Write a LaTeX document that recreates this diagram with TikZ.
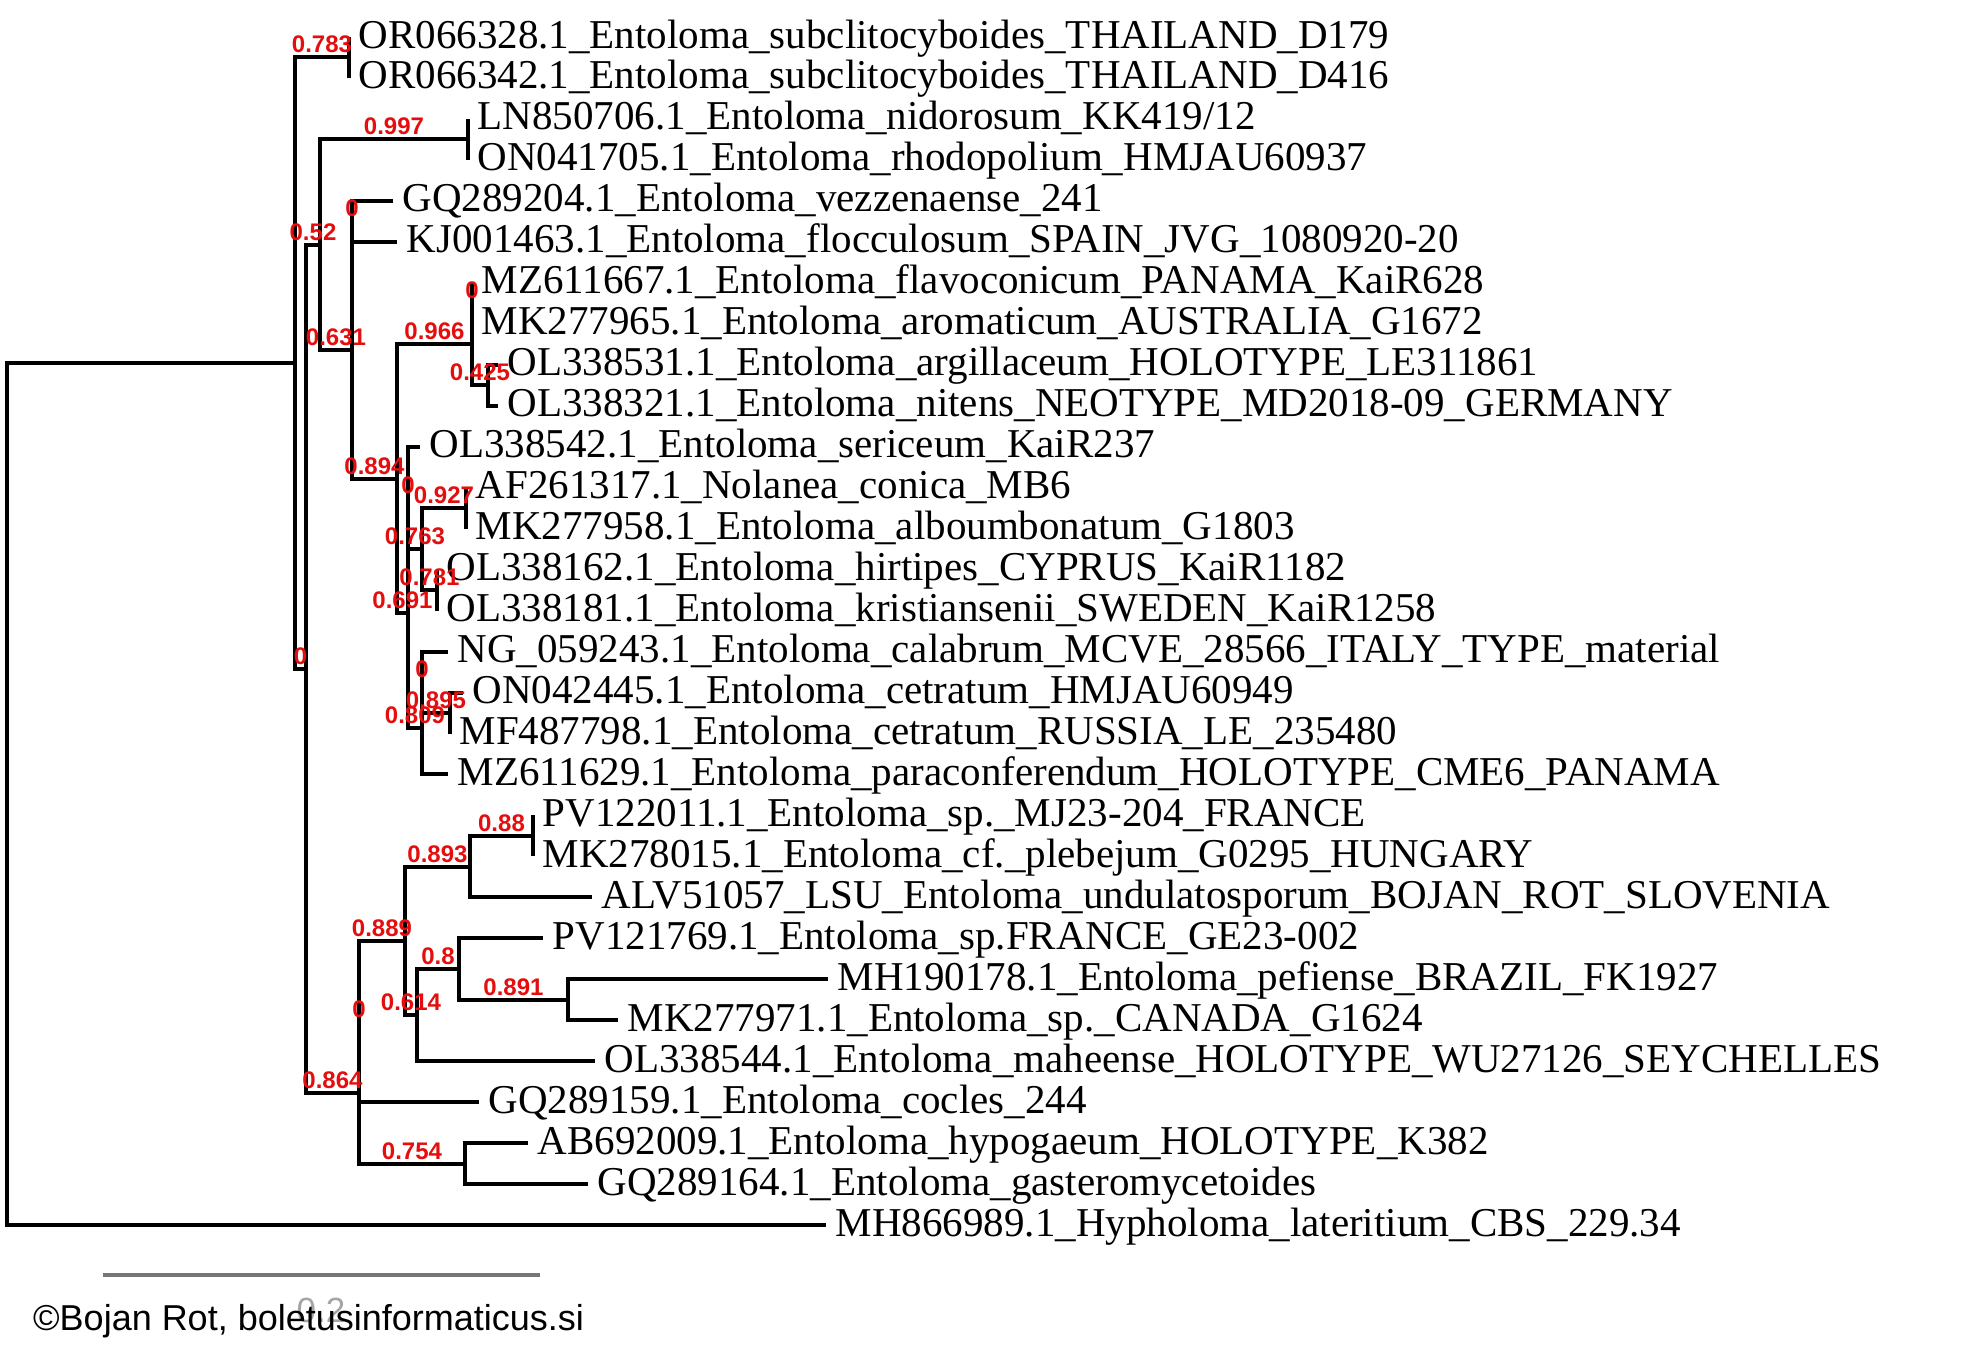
\documentclass[tikz,border=0pt]{standalone}
\usepackage{fontspec}
\setmainfont{Liberation Serif}
\newfontfamily\sansf{Liberation Sans}
\usetikzlibrary{calc}
\definecolor{bsred}{RGB}{228,14,14}
\definecolor{bargray}{RGB}{118,118,118}
\definecolor{scalegray}{RGB}{165,165,165}
\newcommand\bslab[4]{\node[bl] (#1) at ($(#2|-#3)!0.5!(#3)+(0,-4.5)$) {#4};}
\begin{document}
\begin{tikzpicture}[x=1pt,y=-1pt,
  br/.style={line width=4pt, line join=miter},
  tip/.style={anchor=base west, inner sep=0pt, font=\fontsize{41}{41}\selectfont},
  bl/.style={anchor=base, inner sep=0pt, text=bsred, font=\fontsize{24}{24}\sansf\bfseries}]
\useasboundingbox (0,0) rectangle (1969,1350);
% internal nodes
\coordinate (root) at (7,794.1);
\coordinate (A) at (295,363.08);
\coordinate (P1) at (349,57.49);
\coordinate (B) at (306,668.68);
\coordinate (C) at (320,244.74);
\coordinate (H) at (468,139.43);
\coordinate (E) at (352,350.04);
\coordinate (G) at (352,221.37);
\coordinate (F) at (397,478.71);
\coordinate (J) at (472,344.28);
\coordinate (L) at (472,303.31);
\coordinate (M) at (488,385.25);
\coordinate (K) at (408,613.14);
\coordinate (P) at (408,497.9);
\coordinate (S) at (422,549.13);
\coordinate (Q) at (466,508.16);
\coordinate (T) at (437,590.10);
\coordinate (O) at (422,728.37);
\coordinate (U) at (422,682.28);
\coordinate (V) at (450,713.0);
\coordinate (I) at (359,1092.62);
\coordinate (Y) at (359,1021.56);
\coordinate (X) at (465,1163.68);
\coordinate (W) at (405,940.9);
\coordinate (Z) at (470,866.64);
\coordinate (BB) at (533,835.9);
\coordinate (AA) at (417,1015.16);
\coordinate (CC) at (459,969.07);
\coordinate (DD) at (568,999.8);
% tip ends
\coordinate (t0) at (349,37);
\coordinate (t1) at (349,77.97);
\coordinate (t2) at (468,118.94);
\coordinate (t3) at (468,159.91);
\coordinate (t4) at (393,200.88);
\coordinate (t5) at (397,241.85);
\coordinate (t6) at (472,282.82);
\coordinate (t7) at (472,323.79);
\coordinate (t8) at (498,364.76);
\coordinate (t9) at (498,405.73);
\coordinate (t10) at (420,446.7);
\coordinate (t11) at (466,487.67);
\coordinate (t12) at (466,528.64);
\coordinate (t13) at (437,569.61);
\coordinate (t14) at (437,610.58);
\coordinate (t15) at (448,651.55);
\coordinate (t16) at (463,692.52);
\coordinate (t17) at (450,733.49);
\coordinate (t18) at (448,774.46);
\coordinate (t19) at (533,815.43);
\coordinate (t20) at (533,856.4);
\coordinate (t21) at (592,897.37);
\coordinate (t22) at (543,938.34);
\coordinate (t23) at (828,979.31);
\coordinate (t24) at (618,1020.28);
\coordinate (t25) at (595,1061.25);
\coordinate (t26) at (479,1102.22);
\coordinate (t27) at (528,1143.19);
\coordinate (t28) at (588,1184.16);
\coordinate (t29) at (826,1225.13);
% branches
\draw[br] (root) |- (A);  \draw[br] (root) |- (t29);
\draw[br] (A) |- (P1);    \draw[br] (A) |- (B);
\draw[br] (P1) |- (t0);   \draw[br] (P1) |- (t1);
\draw[br] (B) |- (C);     \draw[br] (B) |- (I);
\draw[br] (C) |- (H);     \draw[br] (C) |- (E);
\draw[br] (H) |- (t2);    \draw[br] (H) |- (t3);
\draw[br] (E) |- (G);     \draw[br] (E) |- (F);
\draw[br] (G) |- (t4);    \draw[br] (G) |- (t5);
\draw[br] (F) |- (J);     \draw[br] (F) |- (K);
\draw[br] (J) |- (L);     \draw[br] (J) |- (M);
\draw[br] (L) |- (t6);    \draw[br] (L) |- (t7);
\draw[br] (M) |- (t8);    \draw[br] (M) |- (t9);
\draw[br] (K) |- (P);     \draw[br] (K) |- (O);
\draw[br] (P) |- (t10);   \draw[br] (P) |- (S);
\draw[br] (S) |- (Q);     \draw[br] (S) |- (T);
\draw[br] (Q) |- (t11);   \draw[br] (Q) |- (t12);
\draw[br] (T) |- (t13);   \draw[br] (T) |- (t14);
\draw[br] (O) |- (U);     \draw[br] (O) |- (t18);
\draw[br] (U) |- (t15);   \draw[br] (U) |- (V);
\draw[br] (V) |- (t16);   \draw[br] (V) |- (t17);
\draw[br] (I) |- (Y);     \draw[br] (I) |- (X);
\draw[br] (Y) |- (W);     \draw[br] (Y) |- (t26);
\draw[br] (W) |- (Z);     \draw[br] (W) |- (AA);
\draw[br] (Z) |- (BB);    \draw[br] (Z) |- (t21);
\draw[br] (BB) |- (t19);  \draw[br] (BB) |- (t20);
\draw[br] (AA) |- (CC);   \draw[br] (AA) |- (t25);
\draw[br] (CC) |- (t22);  \draw[br] (CC) |- (DD);
\draw[br] (DD) |- (t23);  \draw[br] (DD) |- (t24);
\draw[br] (X) |- (t27);   \draw[br] (X) |- (t28);
% tip labels
\node[tip] (n0) at ([xshift=9.5pt,yshift=-11pt]t0) {OR066328.1\_Entoloma\_subclitocyboides\_THAILAND\_D179};
\node[tip] (n1) at ([xshift=9.5pt,yshift=-11pt]t1) {OR066342.1\_Entoloma\_subclitocyboides\_THAILAND\_D416};
\node[tip] (n2) at ([xshift=9.5pt,yshift=-11pt]t2) {LN850706.1\_Entoloma\_nidorosum\_KK419/12};
\node[tip] (n3) at ([xshift=9.5pt,yshift=-11pt]t3) {ON041705.1\_Entoloma\_rhodopolium\_HMJAU60937};
\node[tip] (n4) at ([xshift=9.5pt,yshift=-11pt]t4) {GQ289204.1\_Entoloma\_vezzenaense\_241};
\node[tip] (n5) at ([xshift=9.5pt,yshift=-11pt]t5) {KJ001463.1\_Entoloma\_flocculosum\_SPAIN\_JVG\_1080920-20};
\node[tip] (n6) at ([xshift=9.5pt,yshift=-11pt]t6) {MZ611667.1\_Entoloma\_flavoconicum\_PANAMA\_KaiR628};
\node[tip] (n7) at ([xshift=9.5pt,yshift=-11pt]t7) {MK277965.1\_Entoloma\_aromaticum\_AUSTRALIA\_G1672};
\node[tip] (n8) at ([xshift=9.5pt,yshift=-11pt]t8) {OL338531.1\_Entoloma\_argillaceum\_HOLOTYPE\_LE311861};
\node[tip] (n9) at ([xshift=9.5pt,yshift=-11pt]t9) {OL338321.1\_Entoloma\_nitens\_NEOTYPE\_MD2018-09\_GERMANY};
\node[tip] (n10) at ([xshift=9.5pt,yshift=-11pt]t10) {OL338542.1\_Entoloma\_sericeum\_KaiR237};
\node[tip] (n11) at ([xshift=9.5pt,yshift=-11pt]t11) {AF261317.1\_Nolanea\_conica\_MB6};
\node[tip] (n12) at ([xshift=9.5pt,yshift=-11pt]t12) {MK277958.1\_Entoloma\_alboumbonatum\_G1803};
\node[tip] (n13) at ([xshift=9.5pt,yshift=-11pt]t13) {OL338162.1\_Entoloma\_hirtipes\_CYPRUS\_KaiR1182};
\node[tip] (n14) at ([xshift=9.5pt,yshift=-11pt]t14) {OL338181.1\_Entoloma\_kristiansenii\_SWEDEN\_KaiR1258};
\node[tip] (n15) at ([xshift=9.5pt,yshift=-11pt]t15) {NG\_059243.1\_Entoloma\_calabrum\_MCVE\_28566\_ITALY\_TYPE\_material};
\node[tip] (n16) at ([xshift=9.5pt,yshift=-11pt]t16) {ON042445.1\_Entoloma\_cetratum\_HMJAU60949};
\node[tip] (n17) at ([xshift=9.5pt,yshift=-11pt]t17) {MF487798.1\_Entoloma\_cetratum\_RUSSIA\_LE\_235480};
\node[tip] (n18) at ([xshift=9.5pt,yshift=-11pt]t18) {MZ611629.1\_Entoloma\_paraconferendum\_HOLOTYPE\_CME6\_PANAMA};
\node[tip] (n19) at ([xshift=9.5pt,yshift=-11pt]t19) {PV122011.1\_Entoloma\_sp.\_MJ23-204\_FRANCE};
\node[tip] (n20) at ([xshift=9.5pt,yshift=-11pt]t20) {MK278015.1\_Entoloma\_cf.\_plebejum\_G0295\_HUNGARY};
\node[tip] (n21) at ([xshift=9.5pt,yshift=-11pt]t21) {ALV51057\_LSU\_Entoloma\_undulatosporum\_BOJAN\_ROT\_SLOVENIA};
\node[tip] (n22) at ([xshift=9.5pt,yshift=-11pt]t22) {PV121769.1\_Entoloma\_sp.FRANCE\_GE23-002};
\node[tip] (n23) at ([xshift=9.5pt,yshift=-11pt]t23) {MH190178.1\_Entoloma\_pefiense\_BRAZIL\_FK1927};
\node[tip] (n24) at ([xshift=9.5pt,yshift=-11pt]t24) {MK277971.1\_Entoloma\_sp.\_CANADA\_G1624};
\node[tip] (n25) at ([xshift=9.5pt,yshift=-11pt]t25) {OL338544.1\_Entoloma\_maheense\_HOLOTYPE\_WU27126\_SEYCHELLES};
\node[tip] (n26) at ([xshift=9.5pt,yshift=-11pt]t26) {GQ289159.1\_Entoloma\_cocles\_244};
\node[tip] (n27) at ([xshift=9.5pt,yshift=-11pt]t27) {AB692009.1\_Entoloma\_hypogaeum\_HOLOTYPE\_K382};
\node[tip] (n28) at ([xshift=9.5pt,yshift=-11pt]t28) {GQ289164.1\_Entoloma\_gasteromycetoides};
\node[tip] (n29) at ([xshift=9.5pt,yshift=-11pt]t29) {MH866989.1\_Hypholoma\_lateritium\_CBS\_229.34};
% scale bar and credit
\coordinate (sb1) at (103,1275);
\coordinate (sb2) at (540,1275);
\draw[line width=4pt, bargray] (sb1) -- (sb2);
\node[anchor=base, inner sep=0pt, text=scalegray, font=\fontsize{35}{35}\sansf] (sbl) at (321,1322) {0.2};
\node[anchor=base west, inner sep=0pt, font=\fontsize{36}{36}\sansf] (credit) at (33,1330) {©Bojan Rot, boletusinformaticus.si};
% support labels
\bslab{lP1}{A}{P1}{0.783}
\bslab{lC}{B}{C}{0.52}
\bslab{lH}{C}{H}{0.997}
\bslab{lG}{E}{G}{0}
\bslab{lE}{C}{E}{0.631}
\bslab{lL}{J}{L}{0}
\bslab{lJ}{F}{J}{0.966}
\bslab{lM}{J}{M}{0.425}
\bslab{lF}{E}{F}{0.894}
\bslab{lP}{K}{P}{0}
\bslab{lQ}{S}{Q}{0.927}
\bslab{lS}{P}{S}{0.763}
\bslab{lT}{S}{T}{0.781}
\bslab{lK}{F}{K}{0.691}
\bslab{lU}{O}{U}{0}
\bslab{lV}{U}{V}{0.895}
\bslab{lO}{K}{O}{0.809}
\bslab{lB}{A}{B}{0}
\bslab{lI}{B}{I}{0.864}
\bslab{lBB}{Z}{BB}{0.88}
\bslab{lZ}{W}{Z}{0.893}
\bslab{lW}{Y}{W}{0.889}
\bslab{lCC}{AA}{CC}{0.8}
\bslab{lDD}{CC}{DD}{0.891}
\bslab{lAA}{W}{AA}{0.614}
\bslab{lY}{I}{Y}{0}
\bslab{lX}{I}{X}{0.754}
\end{tikzpicture}
\end{document}
